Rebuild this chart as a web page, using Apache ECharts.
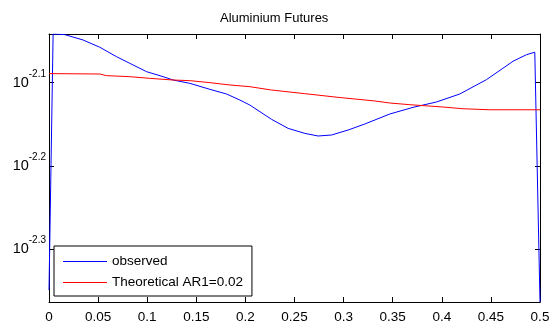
<!DOCTYPE html>
<html>
<head>
<meta charset="utf-8">
<style>
  html, body { margin: 0; padding: 0; background: #fff; }
  #chart { width: 558px; height: 330px; }
</style>
<script src="https://cdn.jsdelivr.net/npm/echarts@6/dist/echarts.min.js"></script>
</head>
<body>
<div id="chart"></div>
<script>
// Normalised frequency (cycles per sample) and spectral density, observed series
const observedFreq = [0, 0.0042, 0.0161, 0.0347, 0.0517, 0.0687, 0.0823, 0.0993, 0.1162, 0.1264,
  0.1434, 0.1638, 0.1808, 0.1943, 0.2045, 0.2266, 0.2435, 0.2605, 0.2740, 0.2877,
  0.3046, 0.3216, 0.3470, 0.3708, 0.3946, 0.4183, 0.4455, 0.4726, 0.4863, 0.4947, 0.5];
const observedPower = [0.004477, 0.009082, 0.009066, 0.008933, 0.008756, 0.008531, 0.008375, 0.008185, 0.008072, 0.007998,
  0.007925, 0.007795, 0.007695, 0.007568, 0.007464, 0.007175, 0.006998, 0.006902, 0.006852, 0.006871,
  0.006966, 0.007083, 0.007281, 0.007417, 0.007527, 0.007695, 0.008006, 0.008424, 0.008578, 0.008636, 0.004332];

// Theoretical AR(1) spectrum, phi = 0.02
const theoryFreq = [0, 0.0517, 0.0585, 0.0823, 0.1026, 0.1264, 0.1434, 0.1638, 0.1842, 0.2045,
  0.2266, 0.2605, 0.2944, 0.3318, 0.3470, 0.3674, 0.4013, 0.4217, 0.4489, 0.5];
const theoryPower = [0.008141, 0.008132, 0.008095, 0.008072, 0.008035, 0.007998, 0.007984, 0.007940, 0.007889, 0.007852,
  0.007780, 0.007702, 0.007624, 0.007548, 0.007506, 0.007471, 0.007423, 0.007388, 0.007367, 0.007367];

const seriesNames = ['observed', 'Theoretical AR1=0.02'];
const yMin = 0.004332;
const yMax = 0.009082;

const FONT = 'Liberation Sans, Arial, Helvetica, sans-serif';
// log axis whose base is 10^0.1 so that every tick sits on a tenth of a decade
const TENTH_DECADE = Math.pow(10, 0.1);

function decadeLabel(v) {
  const e = Math.log10(v);
  const r = Math.round(e * 10) / 10;
  if (Math.abs(e - r) > 1e-4) return '';
  return '{b|10}{s|' + r.toFixed(1) + '}';
}

const axisLine = { show: true, onZero: false, lineStyle: { color: '#000', width: 1 } };
const axisTick = { show: true, inside: true, length: 5, lineStyle: { color: '#000', width: 1 } };

const chart = echarts.init(document.getElementById('chart'), null, { renderer: 'canvas' });
chart.setOption({
  animation: false,
  backgroundColor: '#fff',
  title: {
    text: 'Aluminium Futures',
    left: 220,
    top: 12,
    padding: 0,
    textStyle: { fontFamily: FONT, fontSize: 13, fontWeight: 'normal', color: '#000' }
  },
  grid: { left: 49, right: 18, top: 34, bottom: 28, containLabel: false },
  legend: {
    orient: 'vertical',
    left: 54,
    top: 246,
    padding: [8, 9, 6, 9],
    itemGap: 6,
    itemWidth: 44,
    itemHeight: 1,
    icon: 'rect',
    borderColor: '#000',
    borderWidth: 1,
    borderRadius: 0,
    backgroundColor: '#fff',
    textStyle: { fontFamily: FONT, fontSize: 13.5, lineHeight: 15, color: '#000' },
    data: seriesNames
  },
  xAxis: [{
    type: 'value', position: 'bottom', min: 0, max: 0.5, interval: 0.05,
    axisLine: axisLine, axisTick: axisTick, splitLine: { show: false },
    axisLabel: { margin: 8, fontFamily: FONT, fontSize: 13.5, color: '#000' }
  }, {
    type: 'value', position: 'top', min: 0, max: 0.5, interval: 0.05,
    axisLine: axisLine, axisTick: axisTick, splitLine: { show: false },
    axisLabel: { show: false }
  }],
  yAxis: [{
    type: 'log', logBase: TENTH_DECADE, position: 'left', min: yMin, max: yMax,
    axisLine: axisLine, axisTick: axisTick, splitLine: { show: false }, minorTick: { show: false },
    axisLabel: {
      margin: 3, color: '#000', fontFamily: FONT,
      showMinLabel: false, showMaxLabel: false,
      formatter: decadeLabel,
      rich: {
        b: { fontFamily: FONT, fontSize: 14.5, lineHeight: 15, color: '#000' },
        s: { fontFamily: FONT, fontSize: 10, lineHeight: 10, color: '#000', padding: [0, 0, 17, 0] }
      }
    }
  }, {
    type: 'log', logBase: TENTH_DECADE, position: 'right', min: yMin, max: yMax,
    axisLine: axisLine, axisTick: axisTick, splitLine: { show: false }, minorTick: { show: false },
    axisLabel: { show: false }
  }],
  series: [{
    name: seriesNames[0],
    type: 'line',
    xAxisIndex: 0, yAxisIndex: 0,
    symbol: 'none',
    smooth: false,
    lineStyle: { color: '#0000ff', width: 1 },
    itemStyle: { color: '#0000ff' },
    data: observedFreq.map((f, i) => [f, observedPower[i]])
  }, {
    name: seriesNames[1],
    type: 'line',
    xAxisIndex: 0, yAxisIndex: 0,
    symbol: 'none',
    smooth: false,
    lineStyle: { color: '#ff0000', width: 1 },
    itemStyle: { color: '#ff0000' },
    data: theoryFreq.map((f, i) => [f, theoryPower[i]])
  }]
});
</script>
</body>
</html>
